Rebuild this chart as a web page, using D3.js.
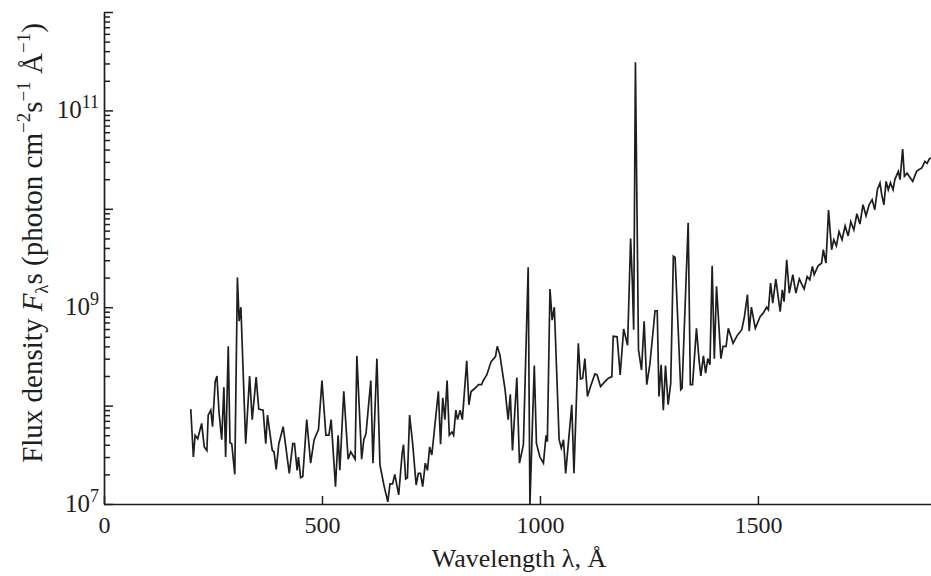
<!DOCTYPE html>
<html>
<head>
<meta charset="utf-8">
<script src="https://cdn.jsdelivr.net/npm/d3@7"></script>
<style>
  body { margin: 0; background: #fff; }
  svg { display: block; font-family: "Liberation Serif", "DejaVu Serif", serif; }
</style>
</head>
<body>
<div id="chart"></div>
<script>
// wavelength, Å
const wavelength = [
  199, 205, 209, 215, 224, 230, 236, 239, 245, 249,
  255, 259, 264, 270, 275, 279, 285, 289, 293, 300,
  306, 310, 314, 325, 334, 340, 349, 355, 365, 371,
  375, 386, 390, 395, 401, 411, 425, 433, 437, 443,
  446, 451, 456, 465, 474, 482, 492, 500, 509, 516,
  521, 531, 537, 541, 550, 560, 566, 576, 580, 591,
  596, 601, 612, 617, 626, 633, 642, 651, 656, 662,
  667, 676, 684, 687, 692, 696, 701, 708, 716, 721,
  726, 731, 737, 742, 747, 752, 767, 772, 777, 782,
  787, 792, 798, 802, 807, 811, 817, 822, 832, 837,
  842, 851, 859, 866, 870, 878, 888, 898, 902, 908,
  920, 927, 932, 937, 947, 953, 962, 973, 977, 987,
  992, 1000, 1008, 1014, 1017, 1023, 1028, 1033, 1044, 1049,
  1054, 1059, 1073, 1078, 1088, 1093, 1098, 1103, 1109, 1116,
  1126, 1131, 1139, 1149, 1157, 1165, 1168, 1177, 1184, 1192,
  1201, 1208, 1212, 1215, 1219, 1226, 1233, 1239, 1245, 1252,
  1264, 1269, 1273, 1278, 1283, 1288, 1294, 1300, 1306, 1310,
  1323, 1326, 1340, 1345, 1350, 1359, 1365, 1369, 1375, 1380,
  1385, 1390, 1395, 1400, 1405, 1415, 1420, 1427, 1432, 1443,
  1453, 1463, 1469, 1476, 1480, 1485, 1494, 1505, 1512, 1520,
  1524, 1529, 1534, 1541, 1551, 1556, 1560, 1566, 1572, 1580,
  1587, 1595, 1606, 1613, 1619, 1625, 1629, 1638, 1646, 1650,
  1656, 1662, 1669, 1674, 1680, 1686, 1693, 1700, 1707, 1713,
  1720, 1727, 1734, 1741, 1748, 1755, 1762, 1768, 1774, 1780,
  1784, 1789, 1794, 1799, 1804, 1810, 1814, 1822, 1826, 1832,
  1836, 1842, 1847, 1855, 1864, 1869, 1876, 1883, 1888, 1893,
  1897
];

// flux density, photon cm^-2 s^-1 Å^-1
const flux = [
  9.2e7, 3.0e7, 5.0e7, 4.6e7, 6.6e7, 3.8e7, 3.5e7, 8.0e7, 9.0e7, 6.1e7,
  1.75e8, 2.0e8, 8.4e7, 4.5e7, 1.54e8, 3.0e7, 4.0e8, 4.2e7, 4.1e7, 2.0e7,
  2.0e9, 7.2e8, 1.0e9, 4.1e7, 2.0e8, 7.2e7, 1.95e8, 9.2e7, 9.0e7, 4.1e7,
  8.0e7, 3.5e7, 3.4e7, 2.25e7, 4.1e7, 6.1e7, 2.05e7, 4.1e7, 4.1e7, 2.2e7,
  3.0e7, 1.85e7, 1.9e7, 7.2e7, 2.6e7, 4.5e7, 5.7e7, 1.8e8, 5.0e7, 5.0e7,
  7.2e7, 1.5e7, 5.0e7, 2.2e7, 1.4e8, 2.85e7, 3.4e7, 2.85e7, 3.2e8, 2.85e7,
  4.5e7, 5.2e7, 1.8e8, 2.6e7, 3.0e8, 2.5e7, 1.56e7, 1.05e7, 1.6e7, 1.6e7,
  2.0e7, 1.24e7, 3.3e7, 4.0e7, 1.8e7, 1.85e7, 8.0e7, 4.1e7, 1.56e7, 2.05e7,
  2.05e7, 1.5e7, 2.6e7, 2.2e7, 3.8e7, 3.15e7, 1.4e8, 4.05e7, 1.2e8, 7.2e7,
  1.8e8, 5.0e7, 5.4e7, 5.0e7, 9.0e7, 7.2e7, 9.0e7, 7.2e7, 2.85e8, 1.02e8,
  1.39e8, 1.5e8, 1.63e8, 1.63e8, 1.8e8, 2.05e8, 2.8e8, 3.15e8, 4.0e8, 3.3e8,
  1.45e8, 7.2e7, 1.3e8, 3.5e7, 1.93e8, 2.6e7, 4.0e7, 2.55e9, 1.0e7, 2.55e8,
  4.1e7, 3.0e7, 2.6e7, 5.0e7, 4.3e7, 1.53e9, 7.4e8, 1.0e9, 4.5e7, 3.7e7,
  4.5e7, 2.05e7, 1.02e8, 2.05e7, 4.3e8, 1.86e8, 1.9e8, 3.0e8, 1.24e8, 1.56e8,
  2.1e8, 2.05e8, 1.56e8, 1.75e8, 1.9e8, 1.97e8, 5.06e8, 5.0e8, 2.05e8, 6.0e8,
  4.1e8, 5.0e9, 1.76e9, 5.9e8, 3.08e11, 3.7e8, 2.3e8, 7.2e8, 1.63e8, 2.6e8,
  9.2e8, 9.2e8, 1.24e8, 2.6e8, 9.0e7, 2.55e8, 1.02e8, 1.69e8, 3.3e9, 3.2e9,
  1.45e8, 1.5e8, 7.2e9, 1.63e8, 1.63e8, 6.1e8, 2.9e8, 2.0e8, 3.2e8, 2.14e8,
  3.0e8, 2.6e8, 2.64e9, 3.0e8, 1.63e9, 3.0e8, 4.0e8, 4.0e8, 6.1e8, 4.3e8,
  5.2e8, 5.9e8, 8.0e8, 1.34e9, 5.7e8, 1.0e9, 6.1e8, 8.0e8, 8.7e8, 1.0e9,
  9.4e8, 1.76e9, 1.1e9, 1.93e9, 9.0e8, 1.5e9, 1.14e9, 3.03e9, 1.39e9, 2.14e9,
  1.39e9, 1.93e9, 1.53e9, 2.05e9, 1.9e9, 2.6e9, 2.14e9, 2.64e9, 2.8e9, 3.84e9,
  2.8e9, 9.7e9, 3.84e9, 4.85e9, 4.2e9, 5.85e9, 4.85e9, 6.7e9, 5.3e9, 7.4e9,
  6.1e9, 8.9e9, 7.0e9, 1.1e10, 8.5e9, 1.1e10, 1.24e10, 9.8e9, 1.56e10, 1.83e10,
  1.39e10, 1.1e10, 1.9e10, 1.56e10, 1.84e10, 1.56e10, 1.98e10, 2.4e10, 1.98e10, 4.05e10,
  2.14e10, 2.3e10, 2.14e10, 1.9e10, 2.4e10, 2.5e10, 2.6e10, 3.03e10, 2.9e10, 3.2e10,
  3.3e10
];

const xTicks = [0, 500, 1000, 1500];
const yExponents = [7, 8, 9, 10, 11, 12];
const yLabelExponents = [7, 9, 11];

const width = 931, height = 576;
const margin = {top: 12, right: 0, bottom: 72, left: 104};

const svg = d3.select("#chart").append("svg")
  .attr("width", width)
  .attr("height", height);

const x = d3.scaleLinear().domain([0, 1897]).range([margin.left, width - margin.right]);
const y = d3.scaleLog().domain([1e7, 1e12]).range([height - margin.bottom, margin.top]);

const ink = "#1e1e1e";

// minor + major log ticks
const yTickVals = [];
yExponents.forEach(e => {
  for (let k = 1; k <= 9; k++) {
    const v = k * Math.pow(10, e);
    if (v <= 1e12) yTickVals.push(v);
  }
});
const isDecade = d => Math.abs(Math.log10(d) - Math.round(Math.log10(d))) < 1e-9;

const xAxis = svg.append("g")
  .attr("transform", `translate(0,${height - margin.bottom})`)
  .call(d3.axisBottom(x).tickValues(xTicks).tickSize(-8).tickSizeOuter(0).tickPadding(12).tickFormat(d3.format("d")));

const yAxis = svg.append("g")
  .attr("transform", `translate(${margin.left},0)`)
  .call(d3.axisLeft(y).tickValues(yTickVals).tickSize(-6).tickSizeOuter(0).tickFormat(""));

yAxis.selectAll(".tick line").attr("x2", d => isDecade(d) ? 9 : 6);

[xAxis, yAxis].forEach(g => {
  g.select(".domain").attr("stroke", ink).attr("stroke-width", 1.7);
  g.selectAll(".tick line").attr("stroke", ink).attr("stroke-width", 1.5);
});

xAxis.selectAll(".tick text")
  .attr("fill", ink)
  .style("font-size", "24px")
  .style("font-family", "Liberation Serif, serif");

// y tick labels with exponents
const yLab = svg.append("g");
yLabelExponents.forEach(e => {
  const t = yLab.append("text")
    .attr("x", 99)
    .attr("y", y(Math.pow(10, e)) + 8)
    .attr("text-anchor", "end")
    .attr("fill", ink)
    .style("font-size", "25px");
  t.append("tspan").text("10");
  t.append("tspan").attr("dy", -10).style("font-size", "18px").text(String(e));
});

// spectrum
const data = wavelength.map((w, i) => [w, flux[i]]);
const line = d3.line().x(d => x(d[0])).y(d => y(d[1]));

svg.append("clipPath").attr("id", "clip")
  .append("rect")
  .attr("x", margin.left).attr("y", margin.top - 2)
  .attr("width", width - margin.left).attr("height", height - margin.bottom - margin.top + 2);

svg.append("path")
  .datum(data)
  .attr("clip-path", "url(#clip)")
  .attr("fill", "none")
  .attr("stroke", ink)
  .attr("stroke-width", 1.7)
  .attr("d", line);

// x label
svg.append("text")
  .attr("x", 519)
  .attr("y", 567)
  .attr("text-anchor", "middle")
  .attr("fill", ink)
  .style("font-size", "26px")
  .text("Wavelength λ, Å");

// y label
const yl = svg.append("text")
  .attr("transform", "translate(42,243) rotate(-90)")
  .attr("text-anchor", "middle")
  .attr("fill", ink)
  .style("font-size", "29px");
yl.append("tspan").text("Flux density ");
yl.append("tspan").style("font-style", "italic").text("F");
yl.append("tspan").attr("dy", 6).style("font-size", "19px").text("λ");
yl.append("tspan").attr("dy", -6).text("s (photon cm");
yl.append("tspan").attr("dy", -12).style("font-size", "19px").text("−2");
yl.append("tspan").attr("dy", 12).text("s");
yl.append("tspan").attr("dy", -12).style("font-size", "19px").text("−1");
yl.append("tspan").attr("dy", 12).text(" Å");
yl.append("tspan").attr("dy", -12).style("font-size", "19px").text("−1");
yl.append("tspan").attr("dy", 12).text(")");
</script>
</body>
</html>
